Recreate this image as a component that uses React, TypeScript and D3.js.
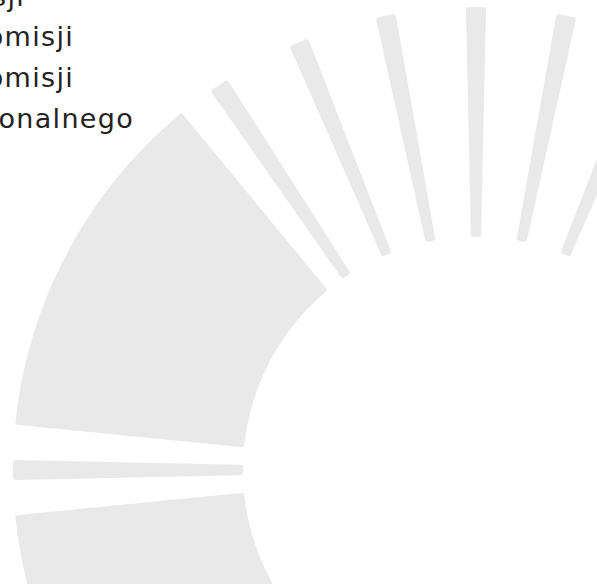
import { useMemo } from "react"
import * as d3 from "d3"

// labels of the list at the top left (cropped by the frame)
const labels = ["Sesji", "Komisji", "Komisji", "Regionalnego"]

// thin rays: centre angle in degrees, 0 = up, clockwise
const rayAngles = [-90, -33.75, -22.5, -11.25, 0, 11.25, 22.5]
const rayWidth = 2.5

// wide wedges: [start, end] in degrees
const wedgeSpans: [number, number][] = [
  [-140.5, -95.6],
  [-84.4, -39.5],
]

const W = 597
const H = 584

const App = () => {
  const cx = 476
  const cy = 470

  const paths = useMemo(() => {
    const rad = d3.scaleLinear().domain([0, 180]).range([0, Math.PI])
    const arc = d3.arc<{ a0: number; a1: number }>()
      .innerRadius(233)
      .outerRadius(463)
      .cornerRadius(3)
      .startAngle(d => rad(d.a0))
      .endAngle(d => rad(d.a1))

    const rays = rayAngles.map(a => ({ a0: a - rayWidth / 2, a1: a + rayWidth / 2 }))
    const wedges = wedgeSpans.map(([a0, a1]) => ({ a0, a1 }))
    return [...wedges, ...rays].map(d => arc(d) as string)
  }, [])

  // text right edges
  const ends = [25, 74, 74, 134]

  return (
    <svg
      width={W}
      height={H}
      style={{ position: "absolute", left: 0, top: 0, background: "#fff" }}
    >
      <g transform={`translate(${cx}, ${cy})`}>
        {paths.map((d, i) => (
          <path key={i} d={d} fill="#e9e9e9" />
        ))}
      </g>
      {labels.map((t, i) => (
        <text
          key={i}
          x={ends[i]}
          y={5.5 + i * 40.8}
          textAnchor="end"
          style={{
            fontFamily: "'DejaVu Sans', sans-serif",
            fontSize: "27px",
            letterSpacing: "1.3px",
            fill: "#222",
          }}
        >
          {t}
        </text>
      ))}
    </svg>
  )
}

export default App
